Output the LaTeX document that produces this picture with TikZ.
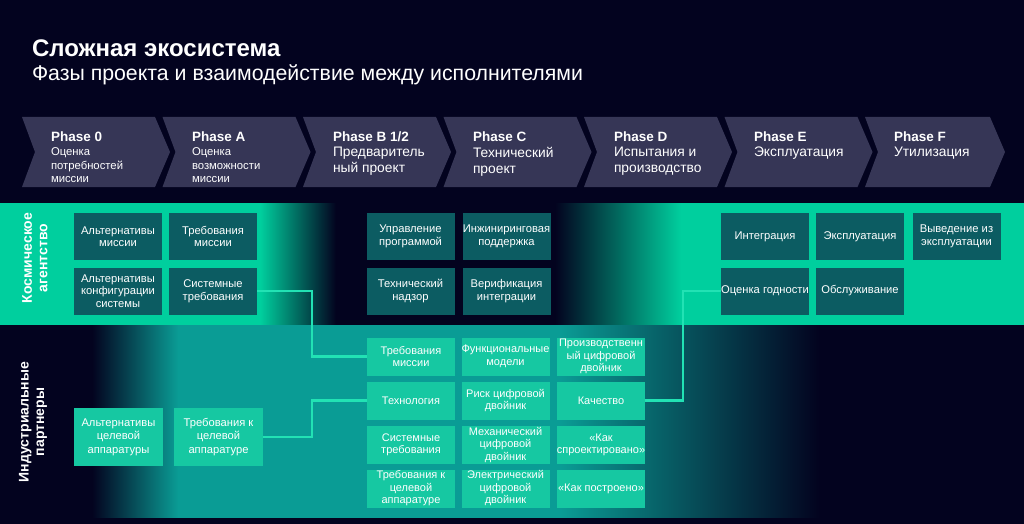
\documentclass[tikz,border=0pt]{standalone}
\usepackage{fontspec}
\setmainfont{Liberation Sans}
\definecolor{bg}{HTML}{03031F}
\definecolor{chev}{HTML}{363656}
\definecolor{bandgreen}{HTML}{00CF9E}
\definecolor{bandteal}{HTML}{0A9C95}
\definecolor{dbox}{HTML}{0C5C62}
\definecolor{lbox}{HTML}{16C8A2}
\definecolor{conncol}{HTML}{22E2B4}
\pgfdeclarehorizontalshading{uppershade}{100bp}{color(0bp)=(bandgreen); color(37.7bp)=(bandgreen); color(41.4bp)=(bg); color(52.1bp)=(bg); color(58.25bp)=(bandgreen); color(100bp)=(bandgreen)}
\pgfdeclarehorizontalshading{lowershade}{100bp}{color(0bp)=(bg); color(29.5bp)=(bg); color(33.7bp)=(bandteal); color(52.3bp)=(bandteal); color(65bp)=(bg); color(100bp)=(bg)}
\begin{document}
\begin{tikzpicture}[x=1pt,y=-1pt,
  every node/.style={inner sep=0pt,outer sep=0pt},
  ubox/.style={fill=dbox,text=white,minimum width=88,minimum height=47,align=center,font=\fontsize{11.2}{12.5}\selectfont},
  lbox/.style={fill=lbox,text=white,minimum width=88,minimum height=38,align=center,font=\fontsize{11}{12.5}\selectfont},
  ibox/.style={fill=lbox,text=white,minimum width=89,minimum height=58,align=center,font=\fontsize{11.2}{13.5}\selectfont},
  phead/.style={anchor=base west,text=white,font=\fontsize{13.5}{16}\selectfont\bfseries},
  psubs/.style={anchor=north west,text=white,align=left,font=\fontsize{11.3}{13.7}\selectfont},
  psubl/.style={anchor=north west,text=white,align=left,font=\fontsize{13.8}{16.5}\selectfont},
  chevfill/.style={fill=chev},
  side/.style={rotate=90,text=white,align=center,font=\fontsize{14}{15.5}\selectfont\bfseries},
  conn/.style={draw=conncol,line width=2.8pt}]
\useasboundingbox (0,0) rectangle (1024,524);
\fill[bg] (0,0) rectangle (1024,524);
% title
\node[anchor=base west,text=white,font=\fontsize{24}{26}\selectfont\bfseries] (title) at (32,57) {Сложная экосистема};
\node[anchor=base west,text=white,font=\fontsize{21.3}{24}\selectfont] (subtitle) at (32,81) {Фазы проекта и взаимодействие между исполнителями};
% chevrons
\foreach \i in {0,...,5}{
  \pgfmathsetmacro\L{22+140.5*\i}
  \fill[chevfill] (\L,117) -- ++(133,0) -- ++(15,35) -- ++(-15,35) -- ++(-133,0) -- ++(13,-35) -- cycle;
}
\fill[chevfill] (865,117) -- (990,117) -- (1005,152) -- (990,187) -- (865,187) -- (878,152) -- cycle;
% phase texts
\node[phead] (p0) at (51,141.5) {Phase 0};
\node[psubs] (p0s) at (51,147.5) {Оценка\\потребностей\\миссии};
\node[phead] (pa) at (192,141.5) {Phase A};
\node[psubs] (pas) at (192,147.5) {Оценка\\возможности\\миссии};
\node[phead] (pb) at (333,141.5) {Phase B 1/2};
\node[psubl] (pbs) at (333,147) {Предваритель\\ный проект};
\node[phead] (pc) at (473,141.5) {Phase C};
\node[psubl] (pcs) at (473,147) {Технический\\проект};
\node[phead] (pd) at (614,141.5) {Phase D};
\node[psubl] (pds) at (614,147) {Испытания и\\производство};
\node[phead] (pe) at (754,141.5) {Phase E};
\node[psubl] (pes) at (754,147) {Эксплуатация};
\node[phead] (pf) at (894,141.5) {Phase F};
\node[psubl] (pfs) at (894,147) {Утилизация};
% bands
\shade[shading=uppershade] (0,203) rectangle (1024,325);
\shade[shading=lowershade] (0,325) rectangle (1024,517);
% side labels
\node[side] (agency) at (35,258) {Космическое\\агентство};
\node[side] (industry) at (33,422) {Индустриальные\\партнеры};
% upper boxes
\node[ubox] (altm) at (118,236.5) {Альтернативы\\миссии};
\node[ubox] (reqm) at (213,236.5) {Требования\\миссии};
\node[ubox] (altc) at (118,291) {Альтернативы\\конфигурации\\системы};
\node[ubox] (sysreq) at (213,291) {Системные\\требования};
\node[ubox] (prog) at (410.5,236.5) {Управление\\программой};
\node[ubox] (eng) at (506.5,236.5) {Инжиниринговая\\поддержка};
\node[ubox] (tech) at (410.5,291) {Технический\\надзор};
\node[ubox] (verif) at (506.5,291) {Верификация\\интеграции};
\node[ubox] (integ) at (765,236.5) {Интеграция};
\node[ubox] (expl) at (860,236.5) {Эксплуатация};
\node[ubox] (decom) at (956.5,236.5) {Выведение из\\эксплуатации};
\node[ubox] (fit) at (765,291) {Оценка годности};
\node[ubox] (serv) at (860,291) {Обслуживание};
% industry boxes
\node[ibox] (altp) at (118.5,437) {Альтернативы\\целевой\\аппаратуры};
\node[ibox] (reqp) at (218.5,437) {Требования к\\целевой\\аппаратуре};
% grid
\node[lbox] (lreq) at (411,356.5) {Требования\\миссии};
\node[lbox] (func) at (505.5,356.5) {Функциональные\\модели};
\node[lbox] (prod) at (601,356.5) {Производственн\\ый цифровой\\двойник};
\node[lbox] (techn) at (411,400.5) {Технология};
\node[lbox] (risk) at (505.5,400.5) {Риск цифровой\\двойник};
\node[lbox] (qual) at (601,400.5) {Качество};
\node[lbox] (lsys) at (411,445) {Системные\\требования};
\node[lbox] (mech) at (505.5,445) {Механический\\цифровой\\двойник};
\node[lbox] (design) at (601,445) {«Как\\спроектировано»};
\node[lbox] (lpay) at (411,488.5) {Требования к\\целевой\\аппаратуре};
\node[lbox] (elec) at (505.5,488.5) {Электрический\\цифровой\\двойник};
\node[lbox] (built) at (601,488.5) {«Как построено»};
% connectors
\draw[conn] (sysreq.east) -- ++(55,0) |- (lreq.west);
\draw[conn] (reqp.east) -- ++(49,0) |- (techn.west);
\draw[conn] (qual.east) -- ++(38,0) |- (fit.west);
\end{tikzpicture}
\end{document}
